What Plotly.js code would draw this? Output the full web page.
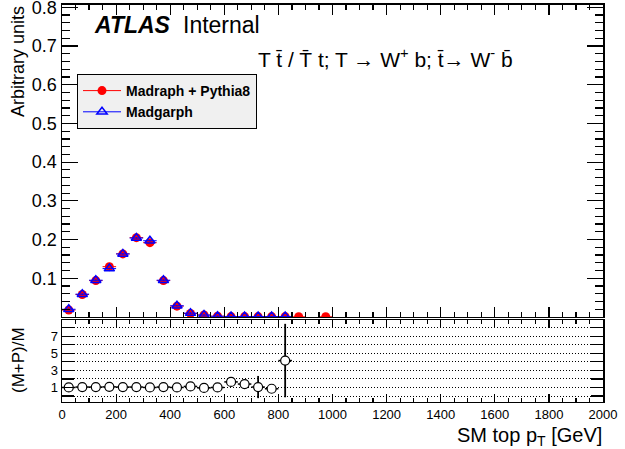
<!DOCTYPE html>
<html><head><meta charset="utf-8">
<script src="https://cdn.plot.ly/plotly-3.0.1.min.js"></script>
<style>html,body{margin:0;padding:0;background:#fff}#c{width:625px;height:449px}</style>
</head><body><div id="c"></div>
<script>
// Data
const redX = [25,75,125,175,225,275,325,375,425,475,525,575,625,675,725,775,825,875,975];
const redY = [0.018,0.058,0.094,0.130,0.163,0.205,0.192,0.094,0.028,0.009,0.005,0.002,0.001,0.001,0.001,0.001,0.001,0.0005,0.0005];
const blueX = [25,75,125,175,225,275,325,375,425,475,525,575,625,675,725,775,825];
const blueY = [0.020,0.059,0.095,0.125,0.163,0.204,0.197,0.095,0.029,0.010,0.005,0.002,0.001,0.001,0.001,0.001,0.001];
const ratioX = [25,75,125,175,225,275,325,375,425,475,525,575,625,675,725,775,825];
const ratioY = [1.0,1.05,1.05,1.07,1.05,1.05,1.0,1.05,1.0,1.12,0.95,1.0,1.65,1.4,1.05,0.85,4.15];
const ratioErr = [0.05,0.05,0.05,0.05,0.05,0.05,0.05,0.05,0.06,0.08,0.1,0.12,0.3,0.3,1.3,0.25,4.3];
const halfBin = 25;
const xTicks = [0,200,400,600,800,1000,1200,1400,1600,1800,2000];
const yTopTicks = [0.1,0.2,0.3,0.4,0.5,0.6,0.7,0.8];
const yRatioTicks = [1,3,5,7];

const FONT = "Liberation Sans, Arial, Helvetica, sans-serif";
const traces = [
  {x: redX, y: redY, type:'scatter', mode:'markers', xaxis:'x', yaxis:'y', showlegend:false,
   marker:{color:'#ff0000', size:9, symbol:'circle'},
   error_x:{type:'constant', value:halfBin, color:'#ff0000', thickness:1, width:0},
   error_y:{type:'constant', value:0.002, color:'#ff0000', thickness:1, width:0}},
  {x: blueX, y: blueY, type:'scatter', mode:'markers', xaxis:'x', yaxis:'y', showlegend:false,
   marker:{color:'#0000ff', size:9, symbol:'triangle-up-open', line:{width:1.5}},
   error_x:{type:'constant', value:halfBin, color:'#0000ff', thickness:1, width:0},
   error_y:{type:'constant', value:0.002, color:'#0000ff', thickness:1, width:0}},
  {x:[null], y:[null], type:'scatter', mode:'lines+markers', name:'Madraph + Pythia8', xaxis:'x', yaxis:'y',
   line:{color:'#ff0000', width:1}, marker:{color:'#ff0000', size:9, symbol:'circle'}},
  {x:[null], y:[null], type:'scatter', mode:'lines+markers', name:'Madgarph', xaxis:'x', yaxis:'y',
   line:{color:'#0000ff', width:1}, marker:{color:'#0000ff', size:9, symbol:'triangle-up-open', line:{width:1.5}}},
  {x: ratioX, y: ratioY, type:'scatter', mode:'markers', xaxis:'x2', yaxis:'y2', showlegend:false,
   marker:{color:'#ffffff', size:9, symbol:'circle', line:{color:'#000', width:1.2}},
   error_x:{type:'constant', value:halfBin, color:'#000', thickness:1.5, width:0},
   error_y:{type:'data', array: ratioErr, color:'#000', thickness:1.8, width:0}}
];

const axBase = {showline:true, linecolor:'#000', linewidth:1.5, mirror:'ticks', ticks:'inside',
  tickcolor:'#000', zeroline:false, showgrid:false, ticklabeloverflow:'allow'};

const layout = {
  width:625, height:449, margin:{l:0,r:0,t:0,b:0},
  paper_bgcolor:'#fff', plot_bgcolor:'#fff',
  font:{family:FONT, color:'#000'},
  xaxis: Object.assign({}, axBase, {domain:[0.0992,0.9648], range:[0,2000], anchor:'y',
    tickvals:xTicks, showticklabels:false, ticklen:10, tickwidth:1.2,
    minor:{dtick:50, tick0:0, ticklen:5, tickcolor:'#000', ticks:'inside'}}),
  yaxis: Object.assign({}, axBase, {domain:[0.294,0.9889], range:[0,0.806], anchor:'x',
    tickvals:yTopTicks, ticktext:yTopTicks.map(v=>v.toFixed(1)), ticklen:16, tickwidth:1.2,
    tickfont:{size:18, family:FONT},
    minor:{dtick:0.02, tick0:0, ticklen:8, tickcolor:'#000', ticks:'inside'}}),
  xaxis2: Object.assign({}, axBase, {domain:[0.0992,0.9648], range:[0,2000], anchor:'y2', matches:'x',
    tickvals:xTicks, ticktext:xTicks.map(String), ticklen:8, tickwidth:1.2,
    tickfont:{size:13, family:FONT},
    minor:{dtick:50, tick0:0, ticklen:4, tickcolor:'#000', ticks:'inside'}}),
  yaxis2: Object.assign({}, axBase, {domain:[0.1047,0.2873], range:[-0.7,8.9], anchor:'x2',
    tickvals:yRatioTicks, ticktext:yRatioTicks.map(String), ticklen:12, tickwidth:1.2,
    tickfont:{size:13, family:FONT},
    minor:{dtick:1, tick0:0, ticklen:12, tickcolor:'#000', ticks:'inside', showgrid:true,
      gridcolor:'#000', gridwidth:1, griddash:'1px,2px'}}),
  legend:{x:77/625, y:1-74/449, xanchor:'left', yanchor:'top', bgcolor:'#f0f0f0',
    bordercolor:'#000', borderwidth:1, font:{size:14, family:FONT, weight:'bold'},
    itemwidth:38, tracegroupgap:0},
  annotations:[
    {xref:'paper', yref:'paper', x:92/625, y:1-25/449, xanchor:'left', yanchor:'middle', showarrow:false,
     text:'<b><i>ATLAS</i></b>', font:{size:23, family:FONT}},
    {xref:'paper', yref:'paper', x:181/625, y:1-25/449, xanchor:'left', yanchor:'middle', showarrow:false,
     text:'Internal', font:{size:23, family:FONT}},
    {xref:'paper', yref:'paper', x:385/625, y:1-58/449, xanchor:'center', yanchor:'middle', showarrow:false,
     text:'T t\u0304 / T\u0304 t; T \u2192 W<sup>+</sup> b; t\u0304\u2192 W<sup>-</sup> b\u0304', font:{size:21, family:FONT}},
    {xref:'paper', yref:'paper', x:18/625, y:1-62/449, xanchor:'center', yanchor:'middle', showarrow:false,
     textangle:-90, text:'Arbitrary units', font:{size:18, family:FONT}},
    {xref:'paper', yref:'paper', x:18/625, y:1-360/449, xanchor:'center', yanchor:'middle', showarrow:false,
     textangle:-90, text:'(M+P)/M', font:{size:17, family:FONT}},
    {xref:'paper', yref:'paper', x:604/625, y:1-436/449, xanchor:'right', yanchor:'middle', showarrow:false,
     text:'SM top p<sub>T</sub> [GeV]', font:{size:20, family:FONT}}
  ]
};
Plotly.newPlot('c', traces, layout, {displayModeBar:false, staticPlot:true});
</script></body></html>
